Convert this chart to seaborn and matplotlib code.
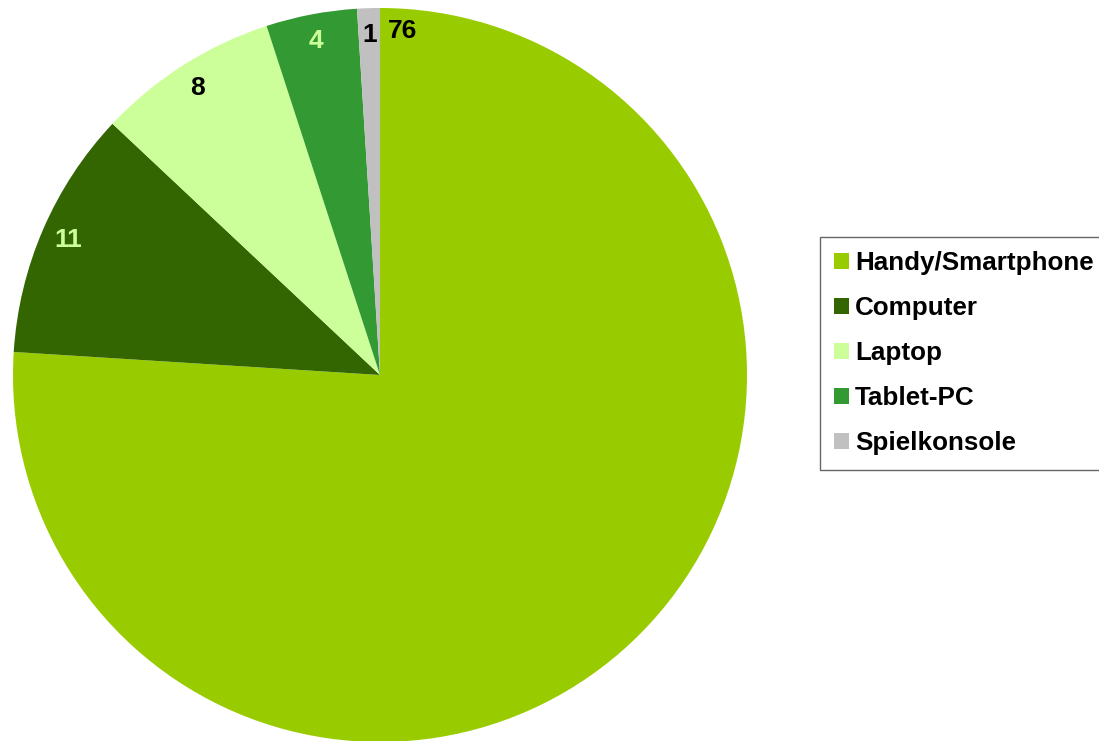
import numpy as np
import matplotlib
matplotlib.use("Agg")
import matplotlib.pyplot as plt
import seaborn as sns

categories = ["Handy/Smartphone", "Computer", "Laptop", "Tablet-PC", "Spielkonsole"]
values = [76, 11, 8, 4, 1]
colors = ["#99CC00", "#336600", "#CCFF99", "#339933", "#C0C0C0"]
label_colors = ["#000000", "#CCFF99", "#000000", "#CCFF99", "#000000"]

sns.set_theme(style="white")
plt.rcParams["font.family"] = ["Liberation Sans", "DejaVu Sans"]
plt.rcParams["text.color"] = "black"

W, H = 1099, 741
fig = plt.figure(figsize=(W / 100, H / 100), dpi=100)
ax = fig.add_axes([0, 0, 1, 1])

cx, cy, R = 380, H - 375, 367
wedges, _ = ax.pie(values, colors=colors, startangle=90, counterclock=False,
                   center=(cx, cy), radius=R, frame=True,
                   wedgeprops=dict(linewidth=0, antialiased=True))
ax.set_xlim(0, W)
ax.set_ylim(0, H)
ax.axis("off")

for i, (w, v) in enumerate(zip(wedges, values)):
    if i == 0:
        ang = w.theta2 - 3.8
        r = 345
    else:
        ang = (w.theta1 + w.theta2) / 2
        r = 340
    x = cx + r * np.cos(np.deg2rad(ang))
    y = cy + r * np.sin(np.deg2rad(ang))
    ax.text(x, y, str(v), ha="center", va="center", fontsize=19,
            fontweight="bold", color=label_colors[i])

leg = fig.legend(wedges, categories, loc="upper left",
                 bbox_to_anchor=(820 / W, 1 - 237 / H),
                 frameon=True, fancybox=False, edgecolor="#404040",
                 prop=dict(weight="bold", size=18.7),
                 handlelength=0.55, handleheight=0.55, handletextpad=0.25,
                 labelspacing=0.81, borderpad=0.55, borderaxespad=0)
leg.get_frame().set_linewidth(1.0)
for t in leg.get_texts():
    t.set_color("black")

fig.savefig("out.png", dpi=100, facecolor="white")
